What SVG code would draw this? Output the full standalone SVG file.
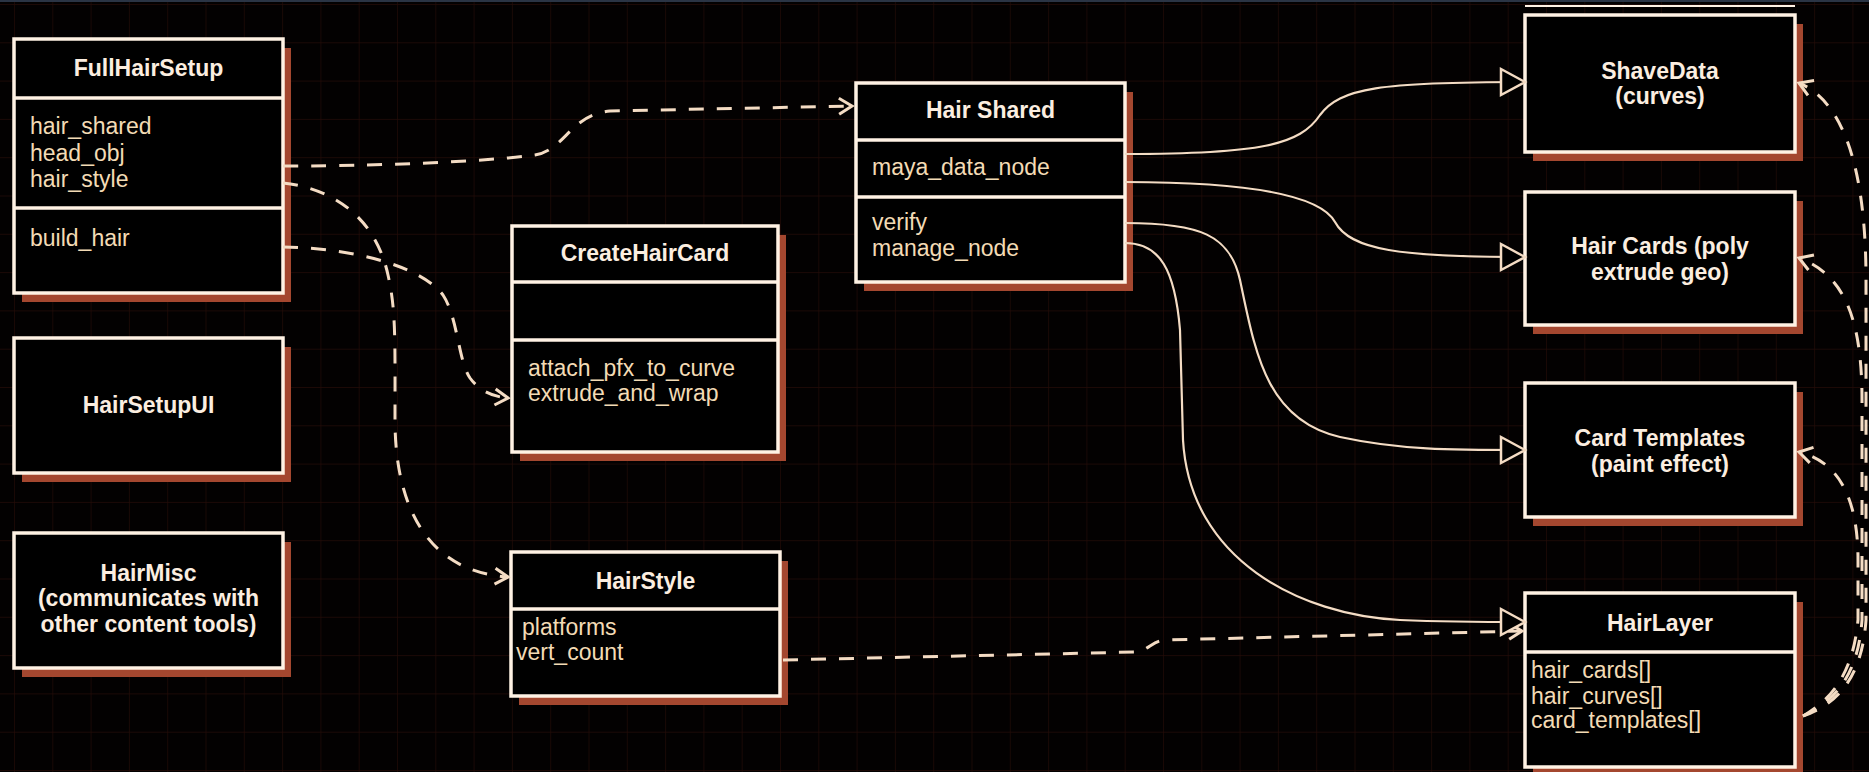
<svg xmlns="http://www.w3.org/2000/svg" width="1869" height="772" viewBox="0 0 1869 772">
<style>
.bg{fill:#030101}
.shadow{fill:#a4472f}
.box{fill:#000;stroke:#fff2e4;stroke-width:3.5}
.div{stroke:#fff2e4;stroke-width:3.5}
.title{font-family:"Liberation Sans",Arial,sans-serif;font-weight:bold;font-size:23px;fill:#fbeee0;text-anchor:middle}
.attr{font-family:"Liberation Sans",Arial,sans-serif;font-size:23px;fill:#f3dbb5}
.solid{fill:none;stroke:#f4dcc4;stroke-width:2.2;marker-end:url(#tri)}
.dash{fill:none;stroke:#f4dcc4;stroke-width:3;stroke-dasharray:15 13;marker-end:url(#open)}
</style>
<defs>
<pattern id="grid" patternUnits="userSpaceOnUse" x="14" y="4" width="38.3" height="38.3">
<path d="M0,0 H38.3 M0,0 V38.3" fill="none" stroke="#240b07" stroke-width="1.3"/>
</pattern>
<marker id="tri" markerUnits="userSpaceOnUse" markerWidth="40" markerHeight="40" viewBox="-30 -20 40 40" refX="0" refY="0" orient="auto" overflow="visible">
<path d="M0,0 L-24,-13 L-24,13 Z" fill="#000" stroke="#f4dcc4" stroke-width="2.5"/>
</marker>
<marker id="open" markerUnits="userSpaceOnUse" markerWidth="30" markerHeight="30" viewBox="-20 -15 30 30" refX="0" refY="0" orient="auto" overflow="visible">
<path d="M-13,-8 L0,0 L-13,8" fill="none" stroke="#f4dcc4" stroke-width="3"/>
</marker>
</defs>
<rect class="bg" x="0" y="0" width="1869" height="772"/>
<rect x="0" y="0" width="1869" height="772" fill="url(#grid)"/>
<rect x="0" y="0" width="1869" height="2" fill="#2a3444"/>

<g id="top-edge">
<line x1="1525" y1="6" x2="1795" y2="6" stroke="#fff2e4" stroke-width="2"/>
</g>

<g id="FullHairSetup">
<rect class="shadow" x="22" y="48" width="269" height="254"/>
<rect class="box" x="14" y="39" width="269" height="254"/>
<line class="div" x1="14" y1="98" x2="283" y2="98"/>
<line class="div" x1="14" y1="208" x2="283" y2="208"/>
<text class="title" x="148.5" y="76">FullHairSetup</text>
<text class="attr" x="30" y="134">hair_shared</text>
<text class="attr" x="30" y="161">head_obj</text>
<text class="attr" x="30" y="187">hair_style</text>
<text class="attr" x="30" y="246">build_hair</text>
</g>

<g id="HairSetupUI">
<rect class="shadow" x="22" y="347" width="269" height="135"/>
<rect class="box" x="14" y="338" width="269" height="135"/>
<text class="title" x="148.5" y="413">HairSetupUI</text>
</g>

<g id="HairMisc">
<rect class="shadow" x="22" y="542" width="269" height="135"/>
<rect class="box" x="14" y="533" width="269" height="135"/>
<text class="title" x="148.5" y="581">HairMisc</text>
<text class="title" x="148.5" y="606">(communicates with</text>
<text class="title" x="148.5" y="632">other content tools)</text>
</g>

<g id="CreateHairCard">
<rect class="shadow" x="520" y="235" width="266" height="226"/>
<rect class="box" x="512" y="226" width="266" height="226"/>
<line class="div" x1="512" y1="282" x2="778" y2="282"/>
<line class="div" x1="512" y1="340" x2="778" y2="340"/>
<text class="title" x="645" y="261">CreateHairCard</text>
<text class="attr" x="528" y="376">attach_pfx_to_curve</text>
<text class="attr" x="528" y="401">extrude_and_wrap</text>
</g>

<g id="HairStyle">
<rect class="shadow" x="519" y="561" width="269" height="144"/>
<rect class="box" x="511" y="552" width="269" height="144"/>
<line class="div" x1="511" y1="609" x2="780" y2="609"/>
<text class="title" x="645.5" y="589">HairStyle</text>
<text class="attr" x="522" y="635">platforms</text>
<text class="attr" x="516" y="660">vert_count</text>
</g>

<g id="HairShared">
<rect class="shadow" x="864" y="92" width="269" height="199"/>
<rect class="box" x="856" y="83" width="269" height="199"/>
<line class="div" x1="856" y1="140" x2="1125" y2="140"/>
<line class="div" x1="856" y1="197" x2="1125" y2="197"/>
<text class="title" x="990.5" y="118">Hair Shared</text>
<text class="attr" x="872" y="175">maya_data_node</text>
<text class="attr" x="872" y="230">verify</text>
<text class="attr" x="872" y="256">manage_node</text>
</g>

<g id="ShaveData">
<rect class="shadow" x="1533" y="24" width="270" height="137"/>
<rect class="box" x="1525" y="15" width="270" height="137"/>
<text class="title" x="1660" y="79">ShaveData</text>
<text class="title" x="1660" y="104">(curves)</text>
</g>

<g id="HairCards">
<rect class="shadow" x="1533" y="201" width="270" height="133"/>
<rect class="box" x="1525" y="192" width="270" height="133"/>
<text class="title" x="1660" y="254">Hair Cards (poly</text>
<text class="title" x="1660" y="280">extrude geo)</text>
</g>

<g id="CardTemplates">
<rect class="shadow" x="1533" y="392" width="270" height="134"/>
<rect class="box" x="1525" y="383" width="270" height="134"/>
<text class="title" x="1660" y="446">Card Templates</text>
<text class="title" x="1660" y="472">(paint effect)</text>
</g>

<g id="HairLayer">
<rect class="shadow" x="1533" y="602" width="270" height="180"/>
<rect class="box" x="1525" y="593" width="270" height="174"/>
<line class="div" x1="1525" y1="652" x2="1795" y2="652"/>
<text class="title" x="1660" y="631">HairLayer</text>
<text class="attr" x="1531" y="678">hair_cards[]</text>
<text class="attr" x="1531" y="704">hair_curves[]</text>
<text class="attr" x="1531" y="728">card_templates[]</text>
</g>

<g id="connectors">
<path class="dash" d="M283,166 C400,166 500,160 535,155 C565,150 570,115 610,111 L852,106"/>
<path class="dash" d="M283,183 C330,188 375,215 388,275 C396,310 395,340 395,420 C395,510 430,572 508,577"/>
<path class="dash" d="M283,247 C350,248 420,265 443,295 C458,318 458,360 470,378 C480,392 495,397 508,398"/>
<path class="dash" d="M783,660 L1135,652 C1148,651 1152,641 1165,640 L1522,631"/>
<path class="dash" d="M1803,716 C1835,705 1862,680 1866,620 L1866,280 C1866,160 1840,100 1799,83"/>
<path class="dash" d="M1803,716 C1832,703 1858,678 1862,620 L1862,400 C1862,320 1845,275 1799,258"/>
<path class="dash" d="M1803,716 C1829,701 1853,676 1858,620 L1858,560 C1858,500 1840,462 1799,452"/>
<path class="solid" d="M1125,154 C1260,154 1300,145 1320,115 C1340,88 1380,82 1525,82"/>
<path class="solid" d="M1125,182 C1250,182 1320,195 1335,222 C1350,250 1400,257 1525,257"/>
<path class="solid" d="M1125,223 C1200,223 1230,235 1240,280 C1255,350 1265,420 1340,437 C1400,450 1450,450 1525,450"/>
<path class="solid" d="M1125,243 C1160,243 1175,270 1180,330 L1183,440 C1190,560 1300,615 1400,620 C1450,622 1490,622 1525,622"/>
</g>
</svg>
